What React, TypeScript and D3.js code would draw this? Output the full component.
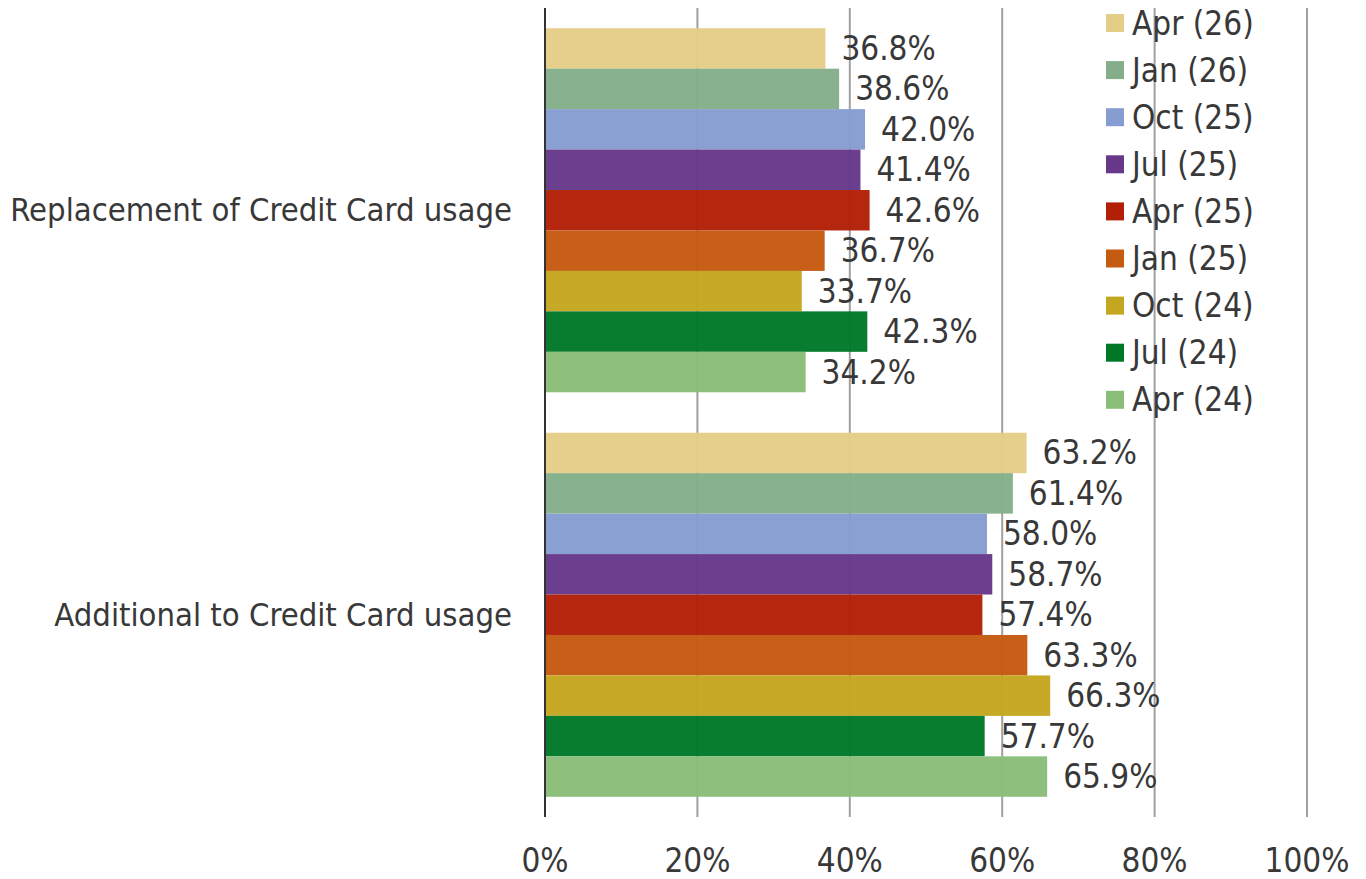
import React from "react";
import * as d3 from "d3";

const categories = ["Replacement of Credit Card usage", "Additional to Credit Card usage"];
const seriesNames = ["Apr (26)", "Jan (26)", "Oct (25)", "Jul (25)", "Apr (25)", "Jan (25)", "Oct (24)", "Jul (24)", "Apr (24)"];
const seriesColors = ["#E4CD87", "#84AE89", "#869DD2", "#67388A", "#B21F06", "#C55A11", "#C4A720", "#007828", "#8ABD78"];
const replacementValues = [36.8, 38.6, 42.0, 41.4, 42.6, 36.7, 33.7, 42.3, 34.2];
const additionalValues = [63.2, 61.4, 58.0, 58.7, 57.4, 63.3, 66.3, 57.7, 65.9];
const xTicks = [0, 20, 40, 60, 80, 100];

const W = 1366;
const H = 879;
const FONT = "'DejaVu Sans Condensed', 'DejaVu Sans', sans-serif";
const TEXT = "#383838";
const FS = 33;

export default function App() {
  const values = [replacementValues, additionalValues];
  const x = d3.scaleLinear().domain([0, 100]).range([545, 1307]);
  const y0 = d3.scaleBand().domain(categories).range([8, 817]).paddingInner(0).paddingOuter(0);
  // Excel gap width 50%: total gap = one bar width, split on both sides
  const inner = d3
    .scaleBand()
    .domain(seriesNames)
    .range([y0.bandwidth() * (0.5 / 10), y0.bandwidth() * (9.5 / 10)]);

  return (
    <svg
      width={W}
      height={H}
      style={{ position: "absolute", left: 0, top: 0, background: "#fff" }}
      fontFamily={FONT}
    >
      {xTicks.map((t) => (
        <line
          key={"g" + t}
          x1={x(t)}
          x2={x(t)}
          y1={8}
          y2={817}
          stroke={t === 0 ? "#333" : "#A0A0A0"}
          strokeWidth={2}
        />
      ))}
      {categories.map((c, ci) => (
        <g key={c} transform={`translate(0,${y0(c)})`}>
          {seriesNames.map((s, si) => {
            const v = values[ci][si];
            const yy = inner(s)!;
            return (
              <g key={s}>
                <rect
                  x={x(0) + 1}
                  y={yy}
                  width={x(v) - x(0) - 1}
                  height={inner.bandwidth()}
                  fill={seriesColors[si]}
                  fillOpacity={0.97}
                />
                <text
                  x={x(v) + 16}
                  y={yy + inner.bandwidth() / 2}
                  dominantBaseline="central"
                  fontSize={FS}
                  fill={TEXT}
                >
                  {v.toFixed(1) + "%"}
                </text>
              </g>
            );
          })}
          <text
            x={512}
            y={y0.bandwidth() / 2}
            textAnchor="end"
            dominantBaseline="central"
            fontSize={32.5}
            fill={TEXT}
          >
            {c}
          </text>
        </g>
      ))}
      {xTicks.map((t) => (
        <text
          key={"t" + t}
          x={x(t)}
          y={860}
          textAnchor="middle"
          dominantBaseline="central"
          fontSize={FS}
          fill={TEXT}
        >
          {t + "%"}
        </text>
      ))}
      {seriesNames.map((s, si) => (
        <g key={"l" + s} transform={`translate(1106,${23 + si * 47.1})`}>
          <rect x={0} y={-9} width={18} height={18} fill={seriesColors[si]} />
          <text x={26} y={0} dominantBaseline="central" fontSize={FS} fill={TEXT}>
            {s}
          </text>
        </g>
      ))}
    </svg>
  );
}
